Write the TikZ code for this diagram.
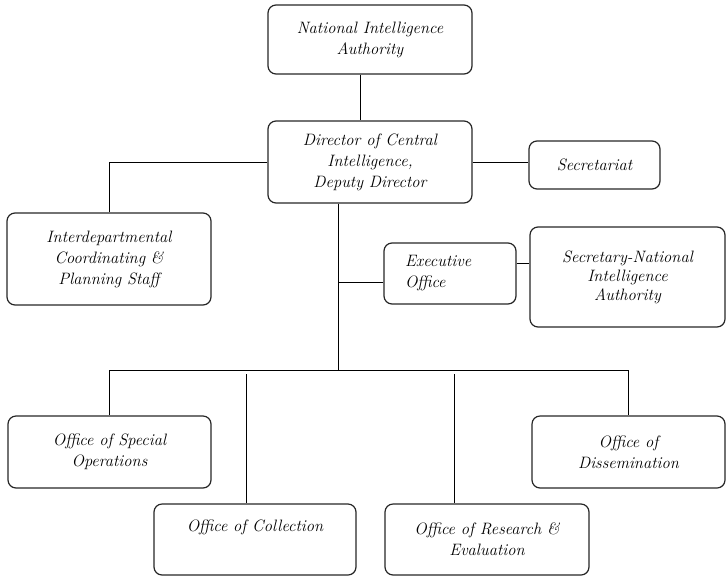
\documentclass[tikz,border=0pt]{standalone}
\usetikzlibrary{calc}
\begin{document}
\begin{tikzpicture}[x=1pt,y=-1pt,
  box/.style={draw=black!85, rounded corners=8pt, line width=1.2pt,
    font=\itshape\fontsize{16.5}{21}\selectfont, align=center, inner sep=0pt},
  conn/.style={line width=0.8pt}]
\useasboundingbox (0,0) rectangle (727,576);
% boxes
\node[box, minimum width=204pt, minimum height=69pt] (nia) at (370,39.5) {National Intelligence\\Authority};
\node[box, minimum width=204pt, minimum height=82pt] (dci) at (370,162) {Director of Central\\Intelligence,\\Deputy Director};
\node[box, minimum width=131pt, minimum height=48pt] (sec) at (594.5,165) {Secretariat};
\node[box, minimum width=204pt, minimum height=92pt] (inter) at (109,259) {Interdepartmental\\Coordinating \&\\Planning Staff};
\node[box, minimum height=61pt, text width=90pt, align=left, inner xsep=21pt] (exec) at (450,273.5) {Executive\\Office};
\node[box, minimum width=195pt, minimum height=100pt, font=\itshape\fontsize{16.5}{19}\selectfont] (secnia) at (627.5,277) {Secretary-National\\Intelligence\\Authority};
\node[box, minimum width=203pt, minimum height=72pt] (spec) at (109.5,452) {Office of Special\\Operations};
\node[box, minimum width=193pt, minimum height=72pt] (diss) at (628.5,452) {Office of\\Dissemination};
\node[box, minimum width=202pt, minimum height=71pt] (coll) at (255,539.5) {Office of Collection\\ \strut};
\node[box, minimum width=204pt, minimum height=71pt] (res) at (487,539.5) {Office of Research \&\\Evaluation};
% helper coordinates
\coordinate (hub) at (338,370);
\coordinate (cTop) at (246,374);
\coordinate (rTop) at (454,374);
% connectors
\draw[conn] ($(nia.south west)!0.451!(nia.south east)$) -- ($(dci.north west)!0.451!(dci.north east)$);
\draw[conn] (dci.east) -- (dci.east -| sec.west);
\draw[conn] (dci.west) -| (inter.north);
\draw[conn] (hub |- dci.south) -- (hub);
\draw[conn] ($(exec.north west)!0.64!(exec.south west)$) coordinate (ew) -- (ew -| hub);
\draw[conn] ($(exec.north east)!0.33!(exec.south east)$) coordinate (ee) -- (ee -| secnia.west);
\draw[conn] (spec.north) -- (spec.north |- hub) -- (diss.north |- hub) -- (diss.north);
\draw[conn] (cTop) -- (cTop |- coll.north);
\draw[conn] (rTop) -- (rTop |- res.north);
\end{tikzpicture}
\end{document}
